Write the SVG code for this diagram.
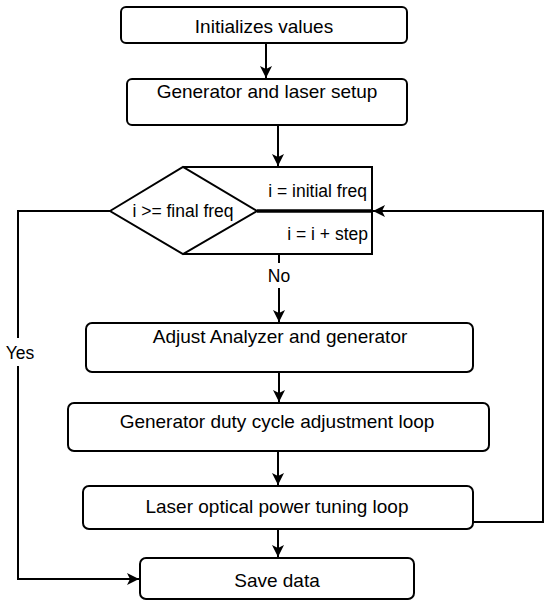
<svg xmlns="http://www.w3.org/2000/svg" width="550" height="604" viewBox="0 0 550 604">
<style>
.box{fill:#fff;stroke:#000;stroke-width:2}
.ln{fill:none;stroke:#000;stroke-width:2}
.t{font-family:"Liberation Sans",Arial,sans-serif;font-size:19px;fill:#000;text-anchor:middle}
.s{font-family:"Liberation Sans",Arial,sans-serif;font-size:17.5px;fill:#000}
</style>
<defs>
<marker id="arr" markerUnits="userSpaceOnUse" markerWidth="14" markerHeight="12" refX="12" refY="6" orient="auto">
<path d="M0,0 L12,6 L0,12 L3,6 Z" fill="#000"/>
</marker>
</defs>
<rect width="550" height="604" fill="#fff"/>
<g id="connectors">
<line class="ln" x1="266" y1="43" x2="266" y2="78" marker-end="url(#arr)"/>
<line class="ln" x1="278" y1="125" x2="278" y2="166" marker-end="url(#arr)"/>
<line class="ln" x1="279" y1="254" x2="279" y2="263"/>
<line class="ln" x1="279" y1="288" x2="279" y2="322" marker-end="url(#arr)"/>
<line class="ln" x1="279" y1="372" x2="279" y2="402" marker-end="url(#arr)"/>
<line class="ln" x1="278" y1="451" x2="278" y2="485" marker-end="url(#arr)"/>
<line class="ln" x1="278" y1="529" x2="278" y2="557" marker-end="url(#arr)"/>
<polyline class="ln" points="473,522 543,522 543,211 373,211" marker-end="url(#arr)"/>
<polyline class="ln" points="110,211 18,211 18,338"/>
<polyline class="ln" points="18,366 18,579 139,579" marker-end="url(#arr)"/>
<text class="s" x="279" y="282" text-anchor="middle">No</text>
<text class="s" x="20" y="359" text-anchor="middle">Yes</text>
</g>
<g id="init">
<rect class="box" x="121" y="7" width="286" height="36" rx="5"/>
<text class="t" x="264" y="33">Initializes values</text>
</g>
<g id="setup">
<rect class="box" x="127" y="79" width="280" height="46" rx="5"/>
<text class="t" x="267" y="98">Generator and laser setup</text>
</g>
<g id="decision">
<path class="ln" d="M183,167 H372 V254 H183"/>
<polygon class="box" points="110,211 183,167 257,211 183,254"/>
<line x1="257" y1="211" x2="372" y2="211" stroke="#000" stroke-width="3.5"/>
<text class="s" x="183" y="217" text-anchor="middle">i &gt;= final freq</text>
<text class="s" x="367" y="197" text-anchor="end">i = initial freq</text>
<text class="s" x="368" y="240" text-anchor="end">i = i + step</text>
</g>
<g id="adjust">
<rect class="box" x="86" y="323" width="387" height="49" rx="6"/>
<text class="t" x="280" y="343">Adjust Analyzer and generator</text>
</g>
<g id="duty">
<rect class="box" x="68" y="403" width="421" height="48" rx="6"/>
<text class="t" x="277" y="428">Generator duty cycle adjustment loop</text>
</g>
<g id="laser">
<rect class="box" x="83" y="486" width="390" height="43" rx="6"/>
<text class="t" x="277" y="513">Laser optical power tuning loop</text>
</g>
<g id="save">
<rect class="box" x="140" y="558" width="274" height="41" rx="6"/>
<text class="t" x="277" y="587">Save data</text>
</g>
</svg>
